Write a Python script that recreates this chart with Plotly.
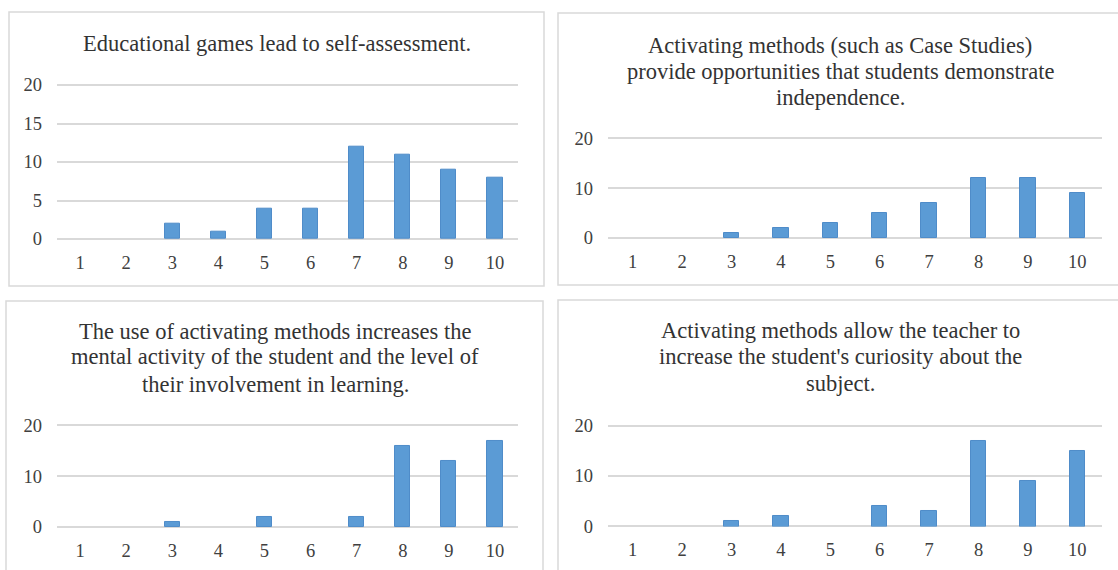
import plotly.graph_objects as go

W, H = 1118, 570

# Rating scale shown on every panel
categories = ["1", "2", "3", "4", "5", "6", "7", "8", "9", "10"]

# Number of respondents per rating, one list per statement
games_self_assessment = [0, 0, 2, 1, 4, 4, 12, 11, 9, 8]
case_studies_independence = [0, 0, 1, 2, 3, 5, 7, 12, 12, 9]
mental_activity_involvement = [0, 0, 1, 0, 2, 0, 2, 16, 13, 17]
teacher_curiosity = [0, 0, 1, 2, 0, 4, 3, 17, 9, 15]

titles = [
    ["Educational games lead to self-assessment."],
    ["Activating methods (such as Case Studies)",
     "provide opportunities that students demonstrate",
     "independence."],
    ["The use of activating methods increases the",
     "mental activity of the student and the level of",
     "their involvement in learning."],
    ["Activating methods allow the teacher to",
     "increase the student's curiosity about the",
     "subject."],
]
series = [games_self_assessment, case_studies_independence,
          mental_activity_involvement, teacher_curiosity]
y_dticks = [5, 10, 10, 10]
Y_MAX = 20

FONT = "Liberation Serif, Times New Roman, serif"
TITLE_COLOR = "#333333"
TICK_COLOR = "#404040"
GRID = "#D9D9D9"
BAR = "#5B9BD5"
BAR_EDGE = "#4F8CC9"


def px_x(p):
    return p / W


def px_y(p):
    return 1 - p / H


# Pixel layout of each panel: plot area (x0, x1, y at 20, y at 0), frame, title lines
panels = [
    dict(plot=(57, 518, 85, 239), frame=(9, 544, 12, 286),
         title_x=277, title_y=[43], bw=0.33),
    dict(plot=(608, 1102, 138.5, 238), frame=(558, 1130, 13, 285),
         title_x=840, title_y=[45, 72, 98], bw=0.31),
    dict(plot=(57, 518, 425.5, 527), frame=(6, 543, 301, 590),
         title_x=275, title_y=[331, 357, 384], bw=0.33),
    dict(plot=(608, 1102, 425.5, 526.5), frame=(558, 1130, 300, 590),
         title_x=840, title_y=[330, 357, 383], bw=0.31),
]

fig = go.Figure()
shapes = []
annotations = []
PAD = 0.3  # headroom above the top gridline, in data units

for i, (p, vals, lines, dt) in enumerate(zip(panels, series, titles, y_dticks), start=1):
    xa = "x" if i == 1 else f"x{i}"
    ya = "y" if i == 1 else f"y{i}"
    fig.add_trace(go.Bar(
        x=categories, y=vals, xaxis=xa, yaxis=ya, width=p["bw"],
        marker=dict(color=BAR,
                    line=dict(color=BAR_EDGE, width=[1 if v else 0 for v in vals])),
        showlegend=False, hoverinfo="x+y",
    ))
    x0, x1, yt, yz = p["plot"]
    unit = (yz - yt) / Y_MAX
    top_px = yt - PAD * unit
    xkey = "xaxis" if i == 1 else f"xaxis{i}"
    ykey = "yaxis" if i == 1 else f"yaxis{i}"
    fig.update_layout({
        xkey: dict(
            domain=[px_x(x0), px_x(x1)], anchor=ya, type="category",
            showgrid=False, showline=False, zeroline=False, ticks="",
            tickfont=dict(family=FONT, size=18.5, color=TICK_COLOR),
            ticklabelstandoff=10, automargin=False, fixedrange=True,
        ),
        ykey: dict(
            domain=[px_y(yz), px_y(top_px)], anchor=xa, range=[0, Y_MAX + PAD],
            tickmode="linear", tick0=0, dtick=dt,
            showgrid=True, gridcolor=GRID, gridwidth=1.5,
            zeroline=True, zerolinecolor=GRID, zerolinewidth=1.5,
            showline=False, ticks="",
            tickfont=dict(family=FONT, size=18.5, color=TICK_COLOR),
            ticklabelstandoff=14, automargin=False, fixedrange=True,
        ),
    })
    fx0, fx1, fy0, fy1 = p["frame"]
    shapes.append(dict(
        type="rect", xref="paper", yref="paper",
        x0=px_x(fx0), x1=px_x(fx1), y0=px_y(fy1), y1=px_y(fy0),
        line=dict(color=GRID, width=1.5), fillcolor="rgba(0,0,0,0)", layer="below",
    ))
    for text, ty in zip(lines, p["title_y"]):
        annotations.append(dict(
            text=text, xref="paper", yref="paper", x=px_x(p["title_x"]), y=px_y(ty),
            xanchor="center", yanchor="middle", showarrow=False,
            font=dict(family=FONT, size=22.5, color=TITLE_COLOR),
        ))

fig.update_layout(
    template="none",
    width=W, height=H,
    margin=dict(l=0, r=0, t=0, b=0, pad=0, autoexpand=False),
    paper_bgcolor="white", plot_bgcolor="white",
    shapes=shapes, annotations=annotations,
    bargap=0,
)

fig.write_html("out.html", config={"displayModeBar": False})
